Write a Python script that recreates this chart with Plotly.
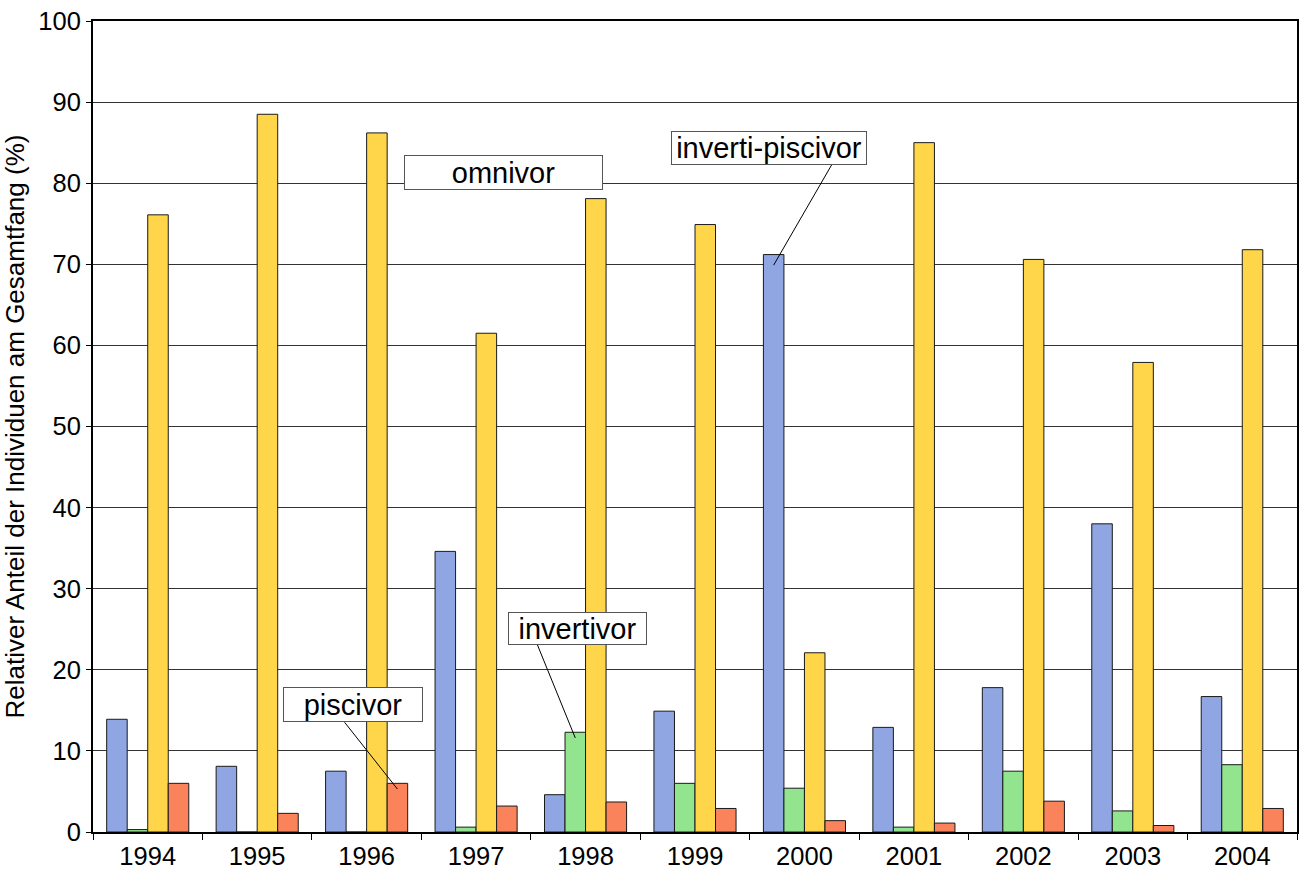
import plotly.graph_objects as go

# Relative share of individuals in the total catch, by feeding guild
years = ["1994", "1995", "1996", "1997", "1998", "1999",
         "2000", "2001", "2002", "2003", "2004"]
inverti_piscivor = [13.9, 8.1, 7.5, 34.6, 4.6, 14.9, 71.2, 12.9, 17.8, 38.0, 16.7]
invertivor = [0.3, 0.0, 0.0, 0.6, 12.3, 6.0, 5.4, 0.6, 7.5, 2.6, 8.3]
omnivor = [76.1, 88.5, 86.2, 61.5, 78.1, 74.9, 22.1, 85.0, 70.6, 57.9, 71.8]
piscivor = [6.0, 2.3, 6.0, 3.2, 3.7, 2.9, 1.4, 1.1, 3.8, 0.8, 2.9]

guilds = ["inverti-piscivor", "invertivor", "omnivor", "piscivor"]
series = [inverti_piscivor, invertivor, omnivor, piscivor]
colors = ["#8FA6E2", "#92E48E", "#FFD54A", "#FA835C"]

BARGAP = 0.25
n_series = len(series)
bar_w = (1 - BARGAP) / n_series

fig = go.Figure()
for name, vals, col in zip(guilds, series, colors):
    fig.add_trace(go.Bar(
        x=years, y=vals, name=name,
        marker=dict(color=col, line=dict(color="#1a1a1a", width=1)),
    ))

font = "Liberation Sans, Arial, sans-serif"

# Plot-area geometry in pixels (used to place the label boxes)
W, H = 1306, 879
L, R, T, B = 93, 7, 19, 47
pw, ph = W - L - R, H - T - B


def px(xp):
    return (xp - L) / pw


def py(yp):
    return (H - B - yp) / ph


# label boxes: (text, left, top, right, bottom) in pixels
boxes = [
    ("omnivor", 405, 153, 604, 188),
    ("inverti-piscivor", 672, 129, 868, 163),
    ("invertivor", 509, 611, 648, 644),
    ("piscivor", 283, 687, 423, 722),
]
for text, x0, y0, x1, y1 in boxes:
    fig.add_annotation(
        xref="paper", yref="paper",
        x=px((x0 + x1) / 2), y=py((y0 + y1) / 2),
        xanchor="center", yanchor="middle",
        text=text, showarrow=False,
        width=x1 - x0 - 2, height=y1 - y0 - 2,
        bgcolor="white", bordercolor="#555555", borderwidth=1, borderpad=0,
        font=dict(family=font, size=29, color="black"),
    )

# leader lines from box edge to the labelled bar
# (guild index, year index, start pixel on box edge, depth into bar)
leaders = [
    (0, 6, (833, 163), 1.3),
    (1, 4, (538, 644), 0.7),
    (3, 2, (345, 722), 0.7),
]
for gi, yi, (sx, sy), depth in leaders:
    xc = yi + (gi - (n_series - 1) / 2) * bar_w
    fig.add_shape(
        type="line", xref="paper", yref="paper",
        x0=px(sx), y0=py(sy),
        x1=(xc + 0.5) / len(years),
        y1=(series[gi][yi] - depth) / 100,
        line=dict(color="black", width=1),
    )

fig.update_layout(
    width=W, height=H,
    margin=dict(l=L, r=R, t=T, b=B),
    paper_bgcolor="white", plot_bgcolor="white",
    barmode="group", bargap=BARGAP, bargroupgap=0,
    showlegend=False,
    font=dict(family=font, color="black"),
)
fig.update_xaxes(
    type="category", range=[-0.5, len(years) - 0.5],
    showline=True, linecolor="black", linewidth=2, mirror=True,
    ticks="outside", ticklen=6, tickcolor="black", tickwidth=1,
    tickson="boundaries",
    tickfont=dict(family=font, size=25.5, color="black"),
    showgrid=False,
)
fig.update_yaxes(
    range=[0, 100], dtick=10,
    showline=True, linecolor="black", linewidth=2, mirror=True,
    ticks="outside", ticklen=5, tickcolor="black",
    tickfont=dict(family=font, size=25.5, color="black"),
    showgrid=True, gridcolor="#333333", gridwidth=1,
    zeroline=False,
    title=dict(text="Relativer Anteil der Individuen am Gesamtfang (%)",
               font=dict(family=font, size=26, color="black"), standoff=8),
)

fig.write_html("out.html")
